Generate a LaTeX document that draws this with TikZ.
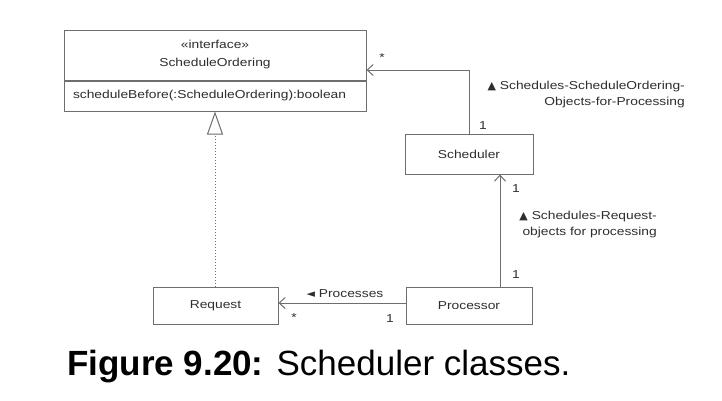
\documentclass[tikz,border=0pt]{standalone}
\usepackage{fontspec}
\setmainfont{Liberation Sans}
\newfontfamily\diagfont[FakeStretch=1.2]{Liberation Sans}
\newfontfamily\symfont{DejaVu Sans}
\usetikzlibrary{arrows.meta}
\definecolor{linegray}{HTML}{6E6E6E}
\definecolor{textgray}{HTML}{2E2E2E}
\newcommand{\uptri}{{\symfont\fontsize{11}{11}\selectfont ▲}}
\newcommand{\lefttri}{{\symfont\fontsize{11}{11}\selectfont ◄}}
\begin{document}
\begin{tikzpicture}[x=1pt,y=-1pt,
  box/.style={draw=linegray,line width=1pt,inner sep=0pt,text=textgray,
    font=\diagfont\fontsize{11.5}{16}\selectfont},
  lbl/.style={inner sep=0pt,text=textgray,font=\diagfont\fontsize{11.5}{16}\selectfont},
  assoc/.style={draw=linegray,line width=1pt,-{Straight Barb[length=6pt,width=11pt]}},
  realize/.style={draw=linegray,line width=1pt,dotted,-{Triangle[open,length=23pt,width=16pt]}}]
\fill[white] (0,0) rectangle (722,400);
\useasboundingbox (0,0) rectangle (722,400);

\node[box,minimum width=302pt,minimum height=50pt,align=center] (iface) at (215,55)
  {«interface»\\[2pt]ScheduleOrdering};
\node[box,minimum width=302pt,minimum height=30pt,anchor=north,text width=284pt,align=left]
  (ifaceops) at (iface.south) {scheduleBefore(:ScheduleOrdering):boolean};
\node[box,minimum width=128pt,minimum height=40pt] (sched) at (469,154) {Scheduler};
\node[box,minimum width=126pt,minimum height=37pt] (proc) at (469,305.5) {Processor};
\node[box,minimum width=125pt,minimum height=37pt] (req) at (215.5,305.5) {Request};

\draw[assoc] (sched.north) |- (iface.east |- 0,70);
\draw[assoc] (proc.north -| 500,0) -- (sched.south -| 500,0);
\draw[assoc] (proc.west |- 0,303) -- (req.east |- 0,303);
\draw[realize] (req.north -| 215,0) -- (ifaceops.south -| 215,0);

\node[lbl] (m1) at (382,58) {*};
\node[lbl] (m2) at (483,126) {1};
\node[lbl] (m3) at (516,189) {1};
\node[lbl] (m4) at (516,275) {1};
\node[lbl] (m5) at (294,318) {*};
\node[lbl] (m6) at (390,319) {1};

\node[lbl,anchor=east,align=right] (a1) at (685,95)
  {\uptri\ Schedules-ScheduleOrdering-\\Objects-for-Processing};
\node[lbl,anchor=east,align=right] (a2) at (657,225)
  {\uptri\ Schedules-Request-\\objects for processing};
\node[lbl] (a3) at (345,294) {\lefttri\ Processes};

\node[anchor=base west,inner sep=0pt,font=\fontsize{35}{40}\selectfont] (cap) at (67,375)
  {\textbf{Figure 9.20:} Scheduler classes.};
\end{tikzpicture}
\end{document}
